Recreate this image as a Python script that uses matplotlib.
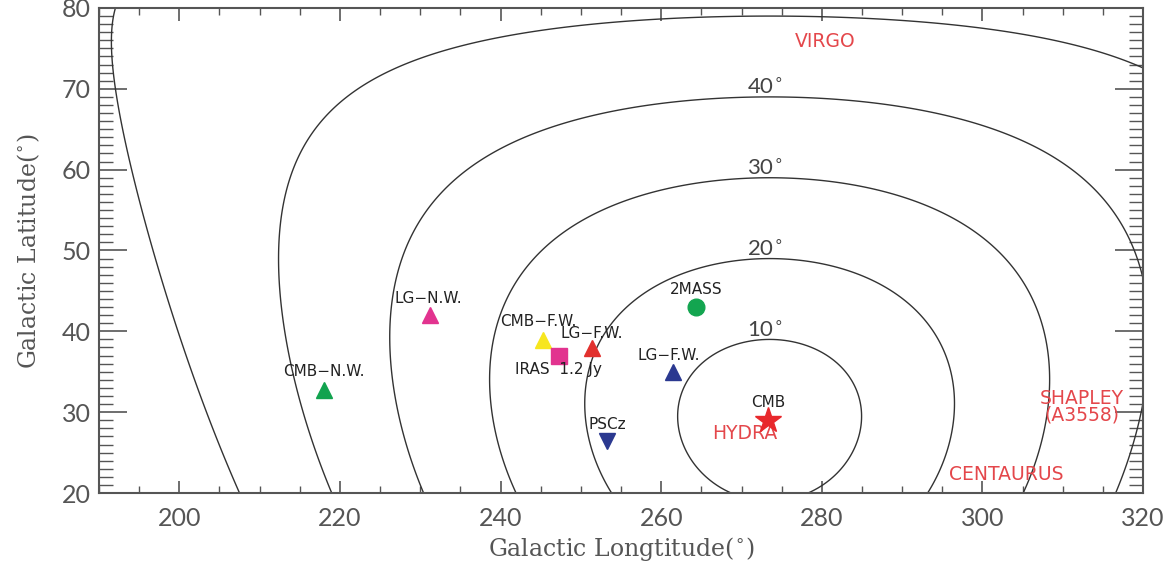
import numpy as np
import matplotlib
matplotlib.use('Agg')
import matplotlib.pyplot as plt
from matplotlib.ticker import MultipleLocator

# dipole direction the contours are drawn around (galactic l, b)
CENTER_L = 273.5
CENTER_B = 29.0
LEVELS = [10, 20, 30, 40, 50, 60]
LABELLED = [10, 20, 30, 40]

# dipole estimates: name, l, b, marker, colour, label offset (l, b)
names   = ['LG\u2212N.W.', 'CMB\u2212N.W.', 'CMB\u2212F.W.', 'IRAS  1.2 Jy',
           'LG\u2212F.W.', '2MASS', 'LG\u2212F.W.', 'PSCz', 'CMB']
gal_l   = [231.2, 218.0, 245.3, 247.3, 251.4, 264.3, 261.5, 253.3, 273.3]
gal_b   = [42.0, 32.8, 38.9, 37.0, 37.9, 43.0, 35.0, 26.4, 29.0]
markers = ['^', '^', '^', 's', '^', 'o', '^', 'v', '*']
colors  = ['#e2338f', '#12a34f', '#f7e61e', '#e2338f', '#e2312e',
           '#13a550', '#2b3990', '#2b3990', '#e8282c']
sizes   = [11, 11, 11, 11, 11, 12, 11, 11, 19]
lab_dl  = [-0.2, 0.0, -0.6, -0.1, 0.0, 0.0, -0.6, 0.0, 0.0]
lab_db  = [2.1, 2.2, 2.35, -1.75, 1.85, 2.2, 2.0, 2.1, 2.2]

# superclusters, in red
sc_names = ['VIRGO', 'HYDRA', 'SHAPLEY\n(A3558)', 'CENTAURUS']
sc_l     = [280.4, 270.4, 312.4, 303.0]
sc_b     = [75.8, 27.3, 30.7, 22.3]

GREY = '#555555'
TICKFONT = dict(family='Lato', weight='normal')

fig = plt.figure(figsize=(11.72, 5.71), dpi=100)
ax = fig.add_axes([0.0845, 0.1366, 0.8908, 0.8494])

# angular distance from the dipole direction
ll, bb = np.meshgrid(np.linspace(185, 325, 300), np.linspace(15, 85, 300))
l0, b0 = np.radians(CENTER_L), np.radians(CENTER_B)
cosd = (np.sin(np.radians(bb)) * np.sin(b0) +
        np.cos(np.radians(bb)) * np.cos(b0) * np.cos(np.radians(ll) - l0))
dist = np.degrees(np.arccos(np.clip(cosd, -1, 1)))
ax.contour(ll, bb, dist, levels=LEVELS, colors='#333333', linewidths=1.0)

for lev in LABELLED:
    ax.text(CENTER_L - 0.6, CENTER_B + lev - 0.1, f'{lev}$^{{\\circ}}$',
            ha='center', va='bottom', fontsize=16, color='#444444',
            **TICKFONT)

for i in range(len(names)):
    ax.plot(gal_l[i], gal_b[i], marker=markers[i], color=colors[i],
            markersize=sizes[i], linestyle='none', zorder=5)
    ax.text(gal_l[i] + lab_dl[i], gal_b[i] + lab_db[i], names[i],
            ha='center', va='center', fontsize=11, color='#222222', zorder=6)

for i in range(len(sc_names)):
    ax.text(sc_l[i], sc_b[i], sc_names[i], ha='center', va='center',
            fontsize=13.5, color='#e4474b', linespacing=0.85, zorder=4)

ax.set_xlim(190, 320)
ax.set_ylim(20, 80)
ax.xaxis.set_major_locator(MultipleLocator(20))
ax.xaxis.set_minor_locator(MultipleLocator(5))
ax.yaxis.set_major_locator(MultipleLocator(10))
ax.yaxis.set_minor_locator(MultipleLocator(1))
ax.tick_params(which='both', direction='in', top=True, right=True,
               color=GREY, labelcolor=GREY, labelsize=18)
ax.tick_params(axis='x', which='major', length=9, width=1.2, pad=10)
ax.tick_params(axis='x', which='minor', length=5, width=1.0)
ax.tick_params(axis='y', which='major', length=20, width=1.2, pad=6)
ax.tick_params(axis='y', which='minor', length=10, width=1.0)
for lab in ax.get_xticklabels() + ax.get_yticklabels():
    lab.set_family(TICKFONT['family'])
    lab.set_weight(TICKFONT['weight'])
for s in ax.spines.values():
    s.set_color(GREY)
    s.set_linewidth(1.5)

ax.set_xlabel('Galactic Longtitude($^{\\circ}$)', family='DejaVu Serif',
              fontsize=17, color=GREY, labelpad=4)
ax.set_ylabel('Galactic Latitude($^{\\circ}$)', family='DejaVu Serif',
              fontsize=17, color=GREY, labelpad=14)

fig.savefig('out.png', dpi=100)
